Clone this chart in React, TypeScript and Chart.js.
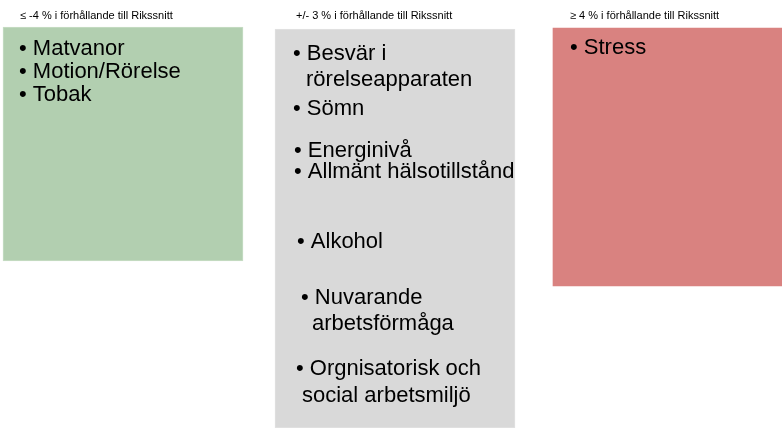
import React, { useEffect, useRef } from "react";
import { Chart, registerables } from "chart.js";

Chart.register(...registerables);

// Group headings (drawn above each box)
const groupTitles = [
  "≤ -4 % i förhållande till Rikssnitt",
  "+/- 3 % i förhållande till Rikssnitt",
  "≥ 4 % i förhållande till Rikssnitt",
];

// Box positions on the (hidden) layout scales
const boxCenters = [123, 395, 673];
const boxTops = [27, 29, 28];
const boxBottoms = [261, 428, 286];

// Bullet items per group (continuation lines are wrapped parts)
const lowItems = [["Matvanor"], ["Motion/Rörelse"], ["Tobak"]];
const midItems = [
  ["Besvär i", "rörelseapparaten"],
  ["Sömn"],
  ["Energinivå"],
  ["Allmänt hälsotillstånd"],
  ["Alkohol"],
  ["Nuvarande", "arbetsförmåga"],
  ["Orgnisatorisk och", "social arbetsmiljö"],
];
const highItems = [["Stress"]];
const groupItems = [lowItems, midItems, highItems];

// Text layout (on the same scales): [bullet x, baseline y, continuation x, continuation baseline]
const lowLayout = [
  [19, 55, 0, 0],
  [19, 78, 0, 0],
  [19, 101, 0, 0],
];
const midLayout = [
  [293, 60, 306, 86],
  [293, 115, 0, 0],
  [294, 157, 0, 0],
  [294, 178, 0, 0],
  [297, 248, 0, 0],
  [301, 304, 312, 330],
  [296, 375, 302, 402],
];
const highLayout = [[570, 54, 0, 0]];
const groupLayouts = [lowLayout, midLayout, highLayout];
const titleOffsetX = [17, 21, 17];
const titleBaseline = 19;

const boxColors = ["rgb(178,207,176)", "rgb(217,217,217)", "rgb(217,130,128)"];
const boxBorders = ["rgb(200,222,198)", "rgb(226,226,226)", "rgb(228,160,158)"];

const FONT = "'Liberation Sans', Arial, sans-serif";

const textPlugin = {
  id: "boxText",
  afterDatasetsDraw(chart: any) {
    const ctx = chart.ctx;
    const xs = chart.scales.x;
    const ys = chart.scales.y;
    const meta = chart.getDatasetMeta(0);
    ctx.save();
    ctx.fillStyle = "#000";
    ctx.textBaseline = "alphabetic";
    ctx.textAlign = "left";
    meta.data.forEach((bar: any, i: number) => {
      const left = bar.x - bar.width / 2;
      ctx.font = `11px ${FONT}`;
      ctx.fillText(groupTitles[i], left + titleOffsetX[i], ys.getPixelForValue(titleBaseline));
      ctx.font = `22px ${FONT}`;
      groupItems[i].forEach((lines: string[], j: number) => {
        const lay = groupLayouts[i][j];
        ctx.fillText("• " + lines[0], xs.getPixelForValue(lay[0]), ys.getPixelForValue(lay[1]));
        if (lines.length > 1) {
          ctx.fillText(lines[1], xs.getPixelForValue(lay[2]), ys.getPixelForValue(lay[3]));
        }
      });
    });
    ctx.restore();
  },
};

export default function App() {
  const ref = useRef<HTMLCanvasElement>(null);
  useEffect(() => {
    if (!ref.current) return;
    const chart = new Chart(ref.current, {
      type: "bar",
      data: {
        datasets: [
          {
            data: boxCenters.map((c, i) => ({ x: c, y: [boxTops[i], boxBottoms[i]] })) as any,
            backgroundColor: boxColors,
            borderColor: boxBorders,
            borderWidth: [1, 1, 0] as any,
            borderSkipped: false,
            barThickness: 240,
            clip: false as any,
          },
        ],
      },
      options: {
        animation: false,
        responsive: false,
        devicePixelRatio: 1,
        layout: { padding: 0 },
        scales: {
          x: { type: "linear", min: 0, max: 782, offset: false, display: false },
          y: { type: "linear", min: 0, max: 428, reverse: true, display: false },
        },
        plugins: { legend: { display: false }, tooltip: { enabled: false } },
      },
      plugins: [textPlugin],
    });
    return () => chart.destroy();
  }, []);
  return (
    <div style={{ position: "fixed", left: 0, top: 0, width: 782, height: 428, background: "#fff" }}>
      <canvas ref={ref} width={782} height={428} />
    </div>
  );
}
